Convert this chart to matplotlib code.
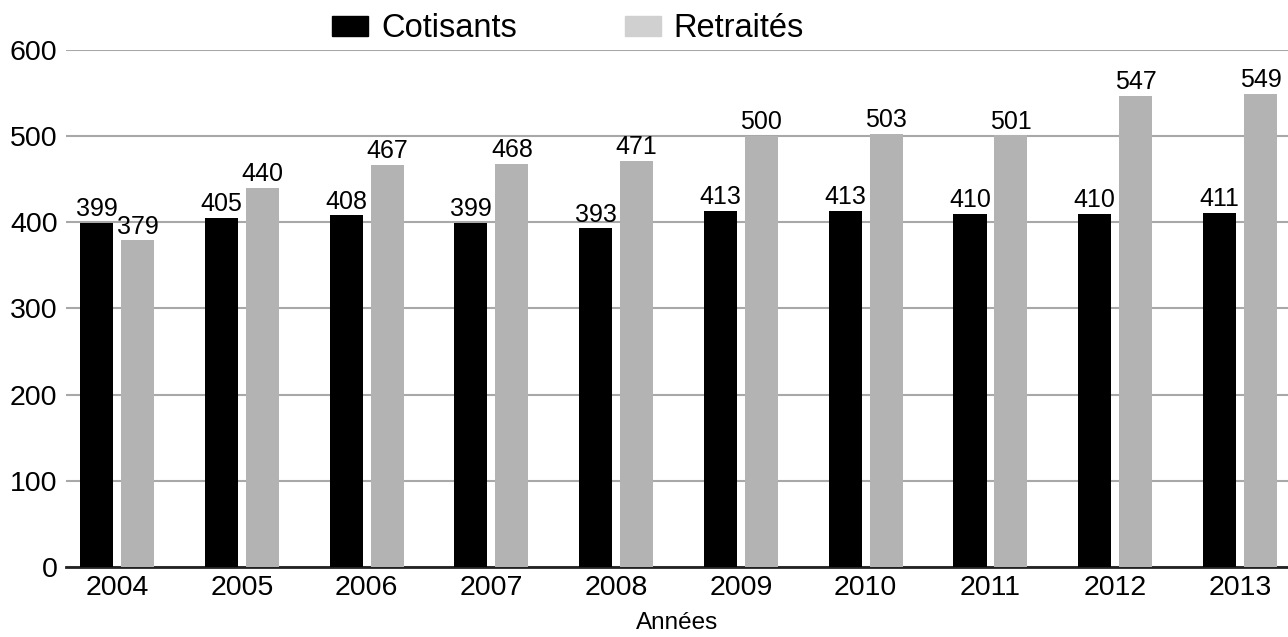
import numpy as np
import matplotlib.pyplot as plt
from matplotlib.patches import Patch

plt.rcParams['font.family'] = ['Liberation Sans', 'DejaVu Sans']

annees = ['2004', '2005', '2006', '2007', '2008', '2009', '2010', '2011', '2012', '2013']
cotisants = [399, 405, 408, 399, 393, 413, 413, 410, 410, 411]
retraites = [379, 440, 467, 468, 471, 500, 503, 501, 547, 549]

noir = '#000000'
gris = '#b3b3b3'

fig = plt.figure(figsize=(12.88, 6.37), dpi=100)
ax = fig.add_axes([0.0512, 0.1099, 0.9488, 0.8116])

x = np.arange(len(annees))
w = 0.265
off = 0.164
b1 = ax.bar(x - off, cotisants, w, color=noir, zorder=3)
b2 = ax.bar(x + off, retraites, w, color=gris, zorder=3)

for bars, vals in ((b1, cotisants), (b2, retraites)):
    for rect, v in zip(bars, vals):
        ax.text(rect.get_x() + rect.get_width() / 2, v + 2, str(v),
                ha='center', va='bottom', fontsize=18, zorder=4)

ax.set_xlim(-0.41, 9.385)
ax.set_ylim(0, 600)
ax.set_yticks(range(0, 601, 100))
ax.set_xticks(x)
ax.set_xticklabels(annees)
ax.tick_params(axis='both', length=0, labelsize=20.5)
ax.tick_params(axis='y', pad=6)
ax.tick_params(axis='x', pad=6)
ax.yaxis.grid(True, color='#a8a8a8', linewidth=1.5, zorder=0)
ax.set_axisbelow(True)
for s in ('top', 'right', 'left'):
    ax.spines[s].set_visible(False)
ax.spines['bottom'].set_color('#222222')
ax.spines['bottom'].set_linewidth(2)
ax.set_xlabel('Années', fontsize=17.5, labelpad=8)

handles = [Patch(color=noir, label='Cotisants'), Patch(color='#d0d0d0', label='Retraités')]
fig.legend(handles=handles, loc='upper center', bbox_to_anchor=(0.441, 1.025), ncol=2,
           frameon=False, fontsize=23.5, handlelength=1.1, handleheight=0.55,
           columnspacing=3.3, handletextpad=0.4)

fig.savefig('out.png', dpi=100)
